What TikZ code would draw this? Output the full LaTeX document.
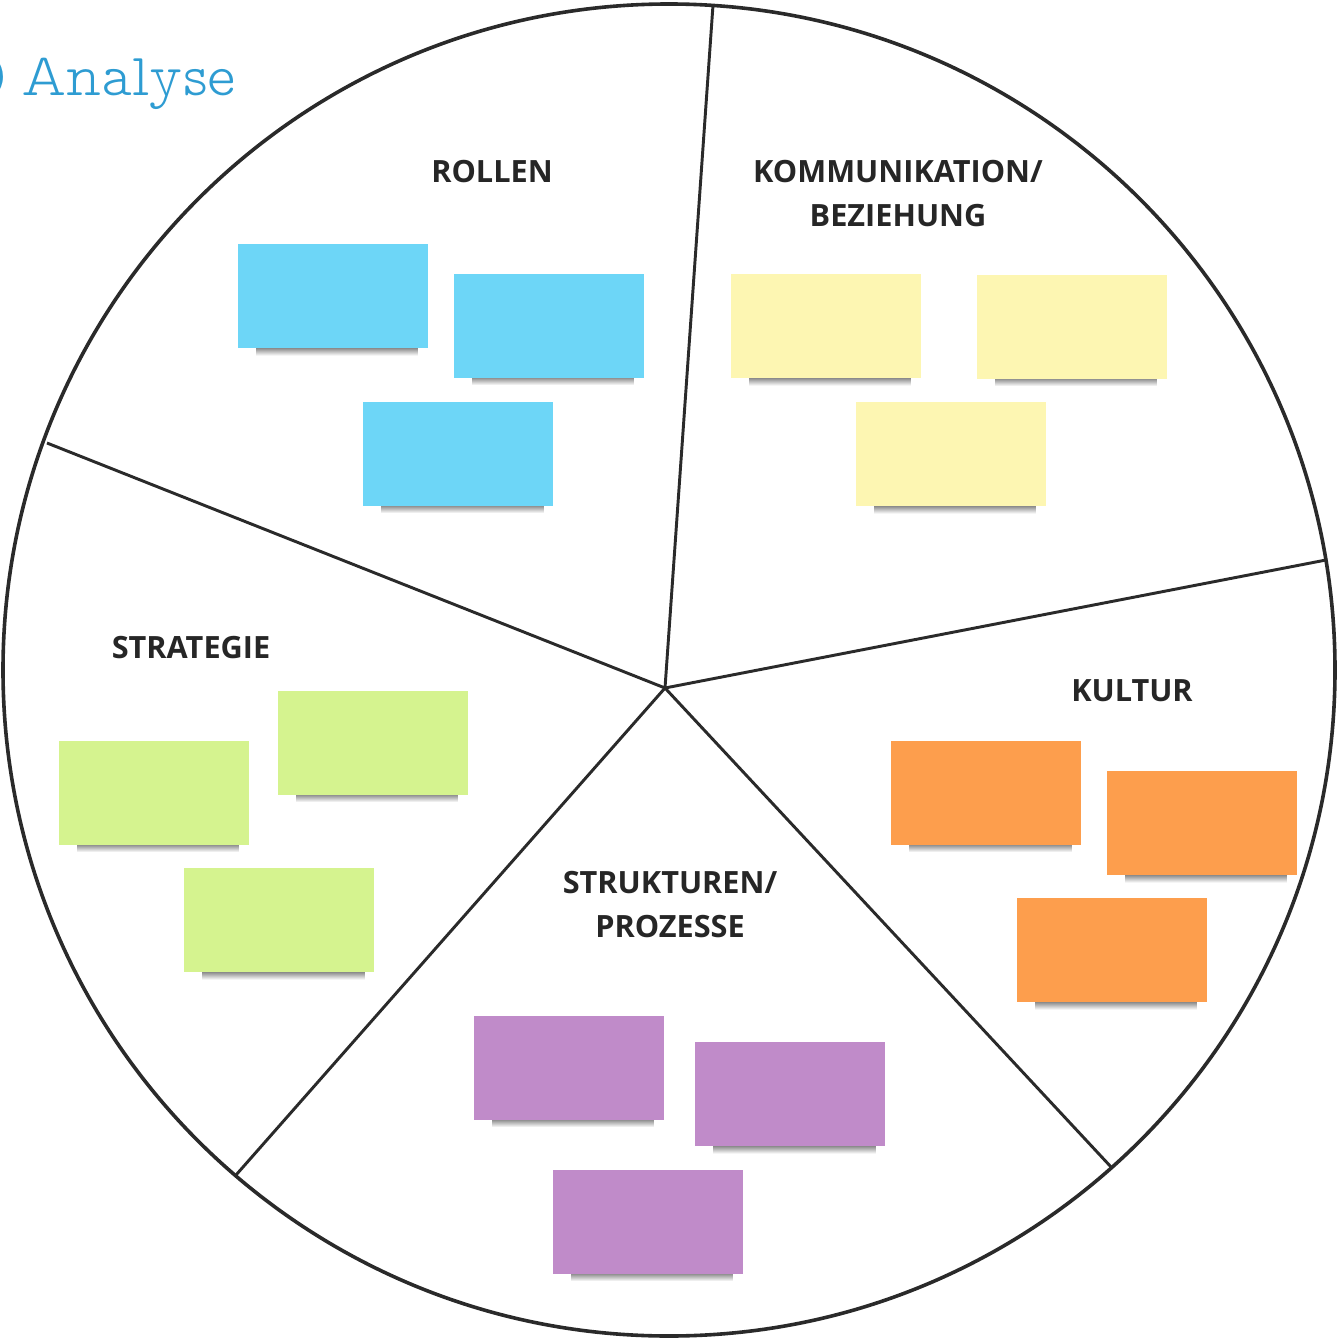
\documentclass[tikz,border=0pt]{standalone}
\usepackage{fontspec}
\setmainfont{Open Sans}
\newfontfamily\titlefont{Latin Modern Mono Prop Light}
\usetikzlibrary{fadings, backgrounds}

\definecolor{notecyan}{HTML}{6DD6F7}
\definecolor{noteyellow}{HTML}{FDF6B2}
\definecolor{notegreen}{HTML}{D5F38F}
\definecolor{noteorange}{HTML}{FD9E4D}
\definecolor{notepurple}{HTML}{C08BC9}
\definecolor{titleblue}{HTML}{2E9CD2}
\definecolor{linegray}{HTML}{2A2A2A}
\definecolor{textgray}{HTML}{262626}

\begin{document}
\begin{tikzpicture}[x=0.75pt, y=-0.75pt]


        % Setup the styles for the wheel, the headings and the notes
        \tikzset{note/.style={rectangle,
                              minimum width=142.5pt,
                              minimum height=78pt,
                              inner sep=0pt},
                 heading/.style={font=\fontsize{23}{33}\selectfont\bfseries,
                                 text=textgray,
                                 align=center},
                 spoke/.style={line width=2.2pt, draw=linegray},
                 titletext/.style={inner sep=0pt, text=titleblue,
                                   font=\titlefont\fontsize{45}{45}\selectfont}}

\useasboundingbox (0,0) rectangle (1338,1341);

% Add the title
\node[titletext, anchor=base west] at (21,96) (title) {Analyse};
\node[titletext, anchor=base east] at (9,96) (step) {)};

% Add the wheel
\draw[line width=2.7pt, linegray] (669,670) circle [radius=666];
\coordinate (c) at (665,688);
\foreach \x/\y [count=\i] in {713/5, 1326/560, 1112/1168, 236/1175, 47/443}{
    \coordinate (e\i) at (\x,\y);
    \draw[spoke] (c) -- (e\i);
}

% Add the headings
\node[heading] at (492,172) (rollen) {ROLLEN};
\node[heading] at (898,194) (komm) {KOMMUNIKATION/\\BEZIEHUNG};
\node[heading] at (191,648) (strategie) {STRATEGIE};
\node[heading] at (1132,691) (kultur) {KULTUR};
\node[heading] at (670,905) (struktur) {STRUKTUREN/\\PROZESSE};

% Add the notes
\foreach \n/\x/\y/\col in {r1/332.5/296/notecyan, r2/548.5/325.5/notecyan, r3/458/453.5/notecyan,
                           k1/825.5/326/noteyellow, k2/1071.5/326.5/noteyellow, k3/950.5/454/noteyellow,
                           s1/372.5/742.5/notegreen, s2/153.5/792.5/notegreen, s3/279/920/notegreen,
                           u1/986/792.5/noteorange, u2/1201.5/823/noteorange, u3/1111.5/950/noteorange,
                           p1/568.5/1067.5/notepurple, p2/790/1094/notepurple, p3/647.5/1221.5/notepurple}
    \node[note, fill=\col] at (\x,\y) (\n) {};

% Shadows under the notes
\begin{scope}[on background layer]
\foreach \n in {r1,r2,r3,k1,k2,k3,s1,s2,s3,u1,u2,u3,p1,p2,p3}
    \fill[black, opacity=0.6, path fading=south]
        ([xshift=14pt, yshift=2pt]\n.south west) rectangle ([xshift=-7pt, yshift=-5.5pt]\n.south east);
\end{scope}
\end{tikzpicture}
\end{document}
